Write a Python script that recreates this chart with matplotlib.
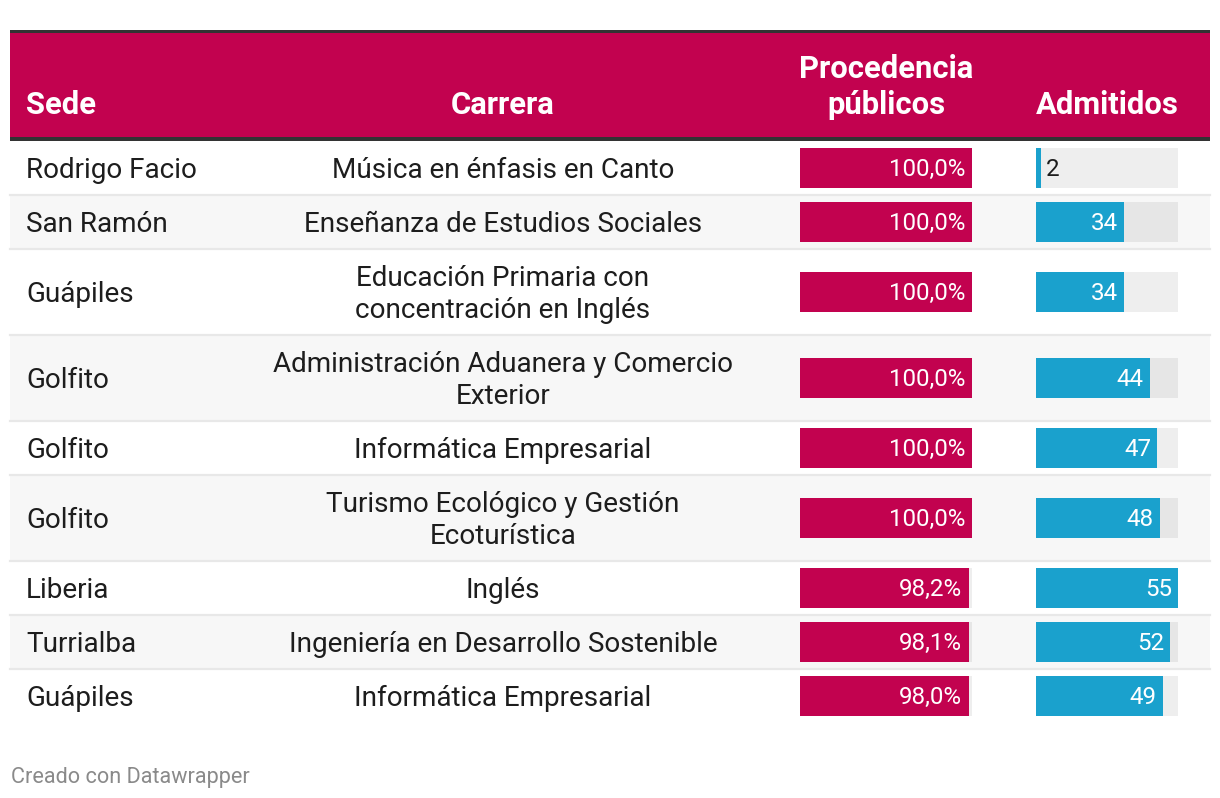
import matplotlib.pyplot as plt

plt.rcParams['font.family'] = ['Roboto', 'DejaVu Sans']

sedes = ['Rodrigo Facio', 'San Ramón', 'Guápiles', 'Golfito', 'Golfito',
         'Golfito', 'Liberia', 'Turrialba', 'Guápiles']
carreras = ['Música en énfasis en Canto',
            'Enseñanza de Estudios Sociales',
            'Educación Primaria con\nconcentración en Inglés',
            'Administración Aduanera y Comercio\nExterior',
            'Informática Empresarial',
            'Turismo Ecológico y Gestión\nEcoturística',
            'Inglés',
            'Ingeniería en Desarrollo Sostenible',
            'Informática Empresarial']
procedencia = [100.0, 100.0, 100.0, 100.0, 100.0, 100.0, 98.2, 98.1, 98.0]
admitidos = [2, 34, 34, 44, 47, 48, 55, 52, 49]
encabezados = ['Sede', 'Carrera', 'Procedencia\npúblicos', 'Admitidos']

MAGENTA = '#c2024f'
AZUL = '#1aa1cd'
W, H = 1220, 798

fig = plt.figure(figsize=(W / 100, H / 100), dpi=100)
ax = fig.add_axes([0, 0, 1, 1])
ax.set_xlim(0, W)
ax.set_ylim(H, 0)
ax.axis('off')


def lineas(x, base, texto, paso, **kw):
    # cada linea por separado, la ultima en 'base'
    partes = texto.split('\n')
    n = len(partes)
    for k, p in enumerate(partes):
        ax.text(x, base - (n - 1 - k) * paso, p, va='baseline', **kw)


# cabecera
ax.add_patch(plt.Rectangle((10, 30), 1200, 111, color=MAGENTA, lw=0))
ax.add_patch(plt.Rectangle((10, 30), 1200, 3, color='#333333', lw=0))
ax.add_patch(plt.Rectangle((10, 137), 1200, 4, color='#333333', lw=0))
hdr = dict(color='white', fontsize=22.3, fontweight='bold')
lineas(26, 114, encabezados[0], 36, ha='left', **hdr)
lineas(503, 114, encabezados[1], 36, ha='center', **hdr)
lineas(886, 114, encabezados[2], 36, ha='center', **hdr)
lineas(1107, 114, encabezados[3], 36, ha='center', **hdr)

# filas
alturas = [86 if '\n' in c else 54 for c in carreras]
tops = []
y = 141
for h in alturas:
    tops.append(y)
    y += h
centros = [t + (h - 1) / 2 for t, h in zip(tops, alturas)]

for i, (t, h) in enumerate(zip(tops, alturas)):
    if i % 2 == 1:
        ax.add_patch(plt.Rectangle((10, t), 1200, h, color='#f7f7f7', lw=0))
    if i < len(tops) - 1:
        ax.plot([10, 1210], [t + h - 0.5, t + h - 0.5], color='#e8e8e8', lw=1.6)
    ax.text(26, centros[i] + 10.5, sedes[i], ha='left', va='baseline',
            fontsize=20.1, color='#1d1d1d')
    n = carreras[i].count('\n') + 1
    lineas(503, centros[i] + 10.5 + (n - 1) * 16, carreras[i], 32,
           ha='center', fontsize=20.1, color='#1d1d1d')

# barras procedencia
axp = fig.add_axes([800 / W, 0, 172 / W, 1])
axp.set_xlim(0, 100)
axp.set_ylim(H, 0)
axp.axis('off')
axp.barh(centros, [100] * len(centros), height=40, color='black', alpha=0.065, lw=0)
axp.barh(centros, procedencia, height=40, color=MAGENTA, lw=0)
for c, v in zip(centros, procedencia):
    axp.text(v - 4, c + 8, f'{v:.1f}%'.replace('.', ','), ha='right',
             va='baseline', color='white', fontsize=17.4)

# barras admitidos
axa = fig.add_axes([1036 / W, 0, 142 / W, 1])
axa.set_xlim(0, max(admitidos))
axa.set_ylim(H, 0)
axa.axis('off')
axa.barh(centros, [max(admitidos)] * len(centros), height=40, color='black',
         alpha=0.065, lw=0)
axa.barh(centros, admitidos, height=40, color=AZUL, lw=0)
for c, v in zip(centros, admitidos):
    if v < 10:
        axa.text(v + 1.8, c + 8, str(v), ha='left', va='baseline',
                 color='#1d1d1d', fontsize=17.4)
    else:
        axa.text(v - 2.4, c + 8, str(v), ha='right', va='baseline',
                 color='white', fontsize=17.4)

ax.text(11, 777, 'Creado con Datawrapper', ha='left', va='center',
        fontsize=15.6, color='#8a8a8a')

fig.savefig('out.png', dpi=100)
